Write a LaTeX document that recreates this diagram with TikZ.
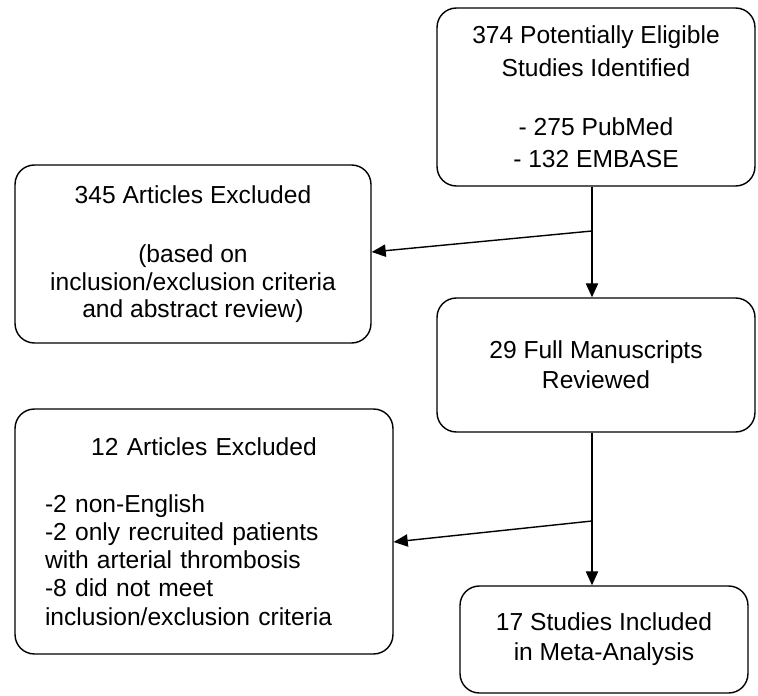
\documentclass[tikz,border=0pt]{standalone}
\usepackage{fontspec}
\setmainfont{Liberation Sans}
\usepackage{tikz}
\usetikzlibrary{arrows.meta,positioning,calc}

\begin{document}
\begin{tikzpicture}[x=0.02cm,y=-0.02cm]
      \tikzstyle{box}=[draw,rounded corners=11pt,line width=0.8pt,inner sep=0pt,align=center,font=\fontsize{14}{17.1}\selectfont]
      \tikzstyle{link}=[line width=0.8pt,-{Triangle[length=8pt,width=7pt]}]
      \useasboundingbox (0,0) rectangle (758,696);
      \node[box,minimum width=6.36cm,minimum height=3.56cm,font=\fontsize{14}{18.5}\selectfont] (found) at (596,97)
        {374 Potentially Eligible\\ Studies Identified\\[15pt] - 275 PubMed\\ - 132 EMBASE};
      \node[box,minimum width=7.12cm,minimum height=3.56cm,font=\fontsize{14}{15.6}\selectfont] (excl1) at (193,254)
        {345 Articles Excluded\\[18.5pt] (based on\\ inclusion/exclusion criteria\\ and abstract review)};
      \node[box,minimum width=6.36cm,minimum height=2.68cm] (full) at (596,365)
        {29 Full Manuscripts\\ Reviewed};
      \node[box,minimum width=7.56cm,minimum height=4.9cm,text width=6.36cm,align=left,font=\fontsize{14}{16.1}\selectfont] (excl2) at (204,531.5)
        {\makebox[\linewidth]{12 Articles Excluded}\\[16.1pt]-2 non-English\\ -2 only recruited patients\\ with arterial thrombosis\\ -8 did not meet\\ inclusion/exclusion criteria};
      \node[box,minimum width=5.76cm,minimum height=2.14cm] (incl) at (604,639.5)
        {17 Studies Included\\ in Meta-Analysis};
      \coordinate (s1) at (592,231);
      \coordinate (s2) at (592,521);
      \draw[link] (found.south -| s1) -- (full.north -| s1);
      \draw[link] (full.south -| s2) -- (incl.north -| s2);
      \draw[link] (s1) -- (excl1.east |- 0,252);
      \draw[link] (s2) -- (excl2.east |- 0,542);
    \end{tikzpicture}
\end{document}
